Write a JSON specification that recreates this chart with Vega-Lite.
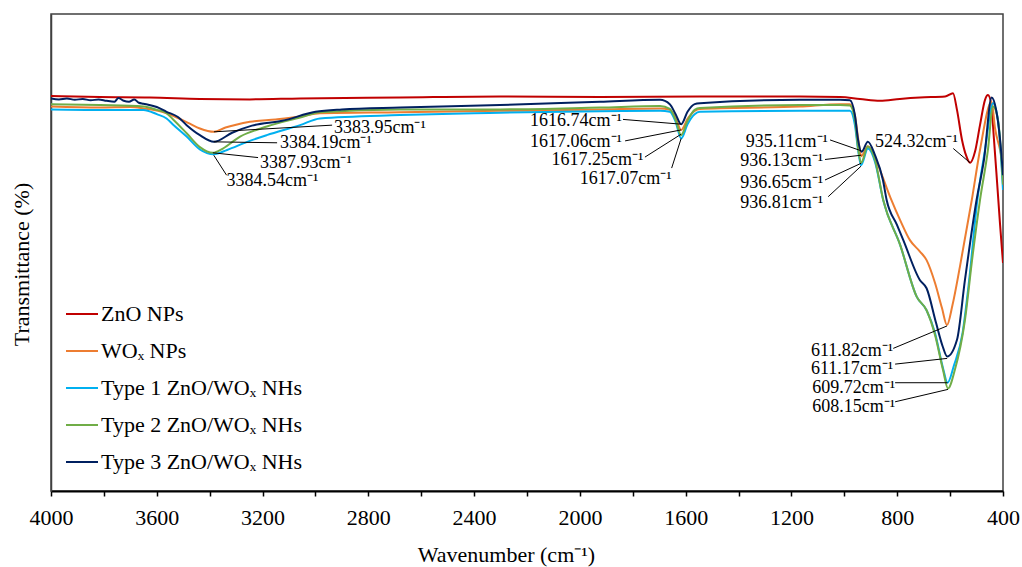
{
  "$schema": "https://vega.github.io/schema/vega-lite/v6.json",
  "width": 952,
  "height": 477,
  "autosize": {"type": "none"},
  "padding": {"left": 51, "top": 14, "right": 19, "bottom": 76},
  "background": "white",
  "config": {
    "font": "Liberation Serif",
    "view": {"stroke": "#404040", "strokeWidth": 1.5},
    "text": {"font": "Liberation Serif"}
  },
  "datasets": {
    "spectra": [
      {"s": "ZnO NPs", "wn": 4000, "t": 82.8},
      {"s": "ZnO NPs", "wn": 3815, "t": 82.6},
      {"s": "ZnO NPs", "wn": 3626, "t": 82.5},
      {"s": "ZnO NPs", "wn": 3437, "t": 82.2},
      {"s": "ZnO NPs", "wn": 3248, "t": 82.1},
      {"s": "ZnO NPs", "wn": 3058, "t": 82.3},
      {"s": "ZnO NPs", "wn": 2680, "t": 82.5},
      {"s": "ZnO NPs", "wn": 2302, "t": 82.7},
      {"s": "ZnO NPs", "wn": 1924, "t": 82.6},
      {"s": "ZnO NPs", "wn": 1546, "t": 82.7},
      {"s": "ZnO NPs", "wn": 1168, "t": 82.7},
      {"s": "ZnO NPs", "wn": 1016, "t": 82.6},
      {"s": "ZnO NPs", "wn": 941, "t": 82.2},
      {"s": "ZnO NPs", "wn": 865, "t": 81.8},
      {"s": "ZnO NPs", "wn": 790, "t": 82.2},
      {"s": "ZnO NPs", "wn": 714, "t": 82.5},
      {"s": "ZnO NPs", "wn": 619, "t": 82.7},
      {"s": "ZnO NPs", "wn": 589, "t": 83.4},
      {"s": "ZnO NPs", "wn": 574, "t": 79.9},
      {"s": "ZnO NPs", "wn": 555, "t": 73.6},
      {"s": "ZnO NPs", "wn": 540, "t": 70.4},
      {"s": "ZnO NPs", "wn": 524.32, "t": 68.8},
      {"s": "ZnO NPs", "wn": 506, "t": 71.1},
      {"s": "ZnO NPs", "wn": 487, "t": 76.7},
      {"s": "ZnO NPs", "wn": 468, "t": 82.0},
      {"s": "ZnO NPs", "wn": 457, "t": 83.0},
      {"s": "ZnO NPs", "wn": 445, "t": 81.3},
      {"s": "ZnO NPs", "wn": 434, "t": 73.6},
      {"s": "ZnO NPs", "wn": 423, "t": 65.2},
      {"s": "ZnO NPs", "wn": 411, "t": 55.8},
      {"s": "ZnO NPs", "wn": 400, "t": 47.8},

      {"s": "WOₓ NPs", "wn": 4000, "t": 80.6},
      {"s": "WOₓ NPs", "wn": 3815, "t": 80.4},
      {"s": "WOₓ NPs", "wn": 3700, "t": 80.5},
      {"s": "WOₓ NPs", "wn": 3650, "t": 80.2},
      {"s": "WOₓ NPs", "wn": 3580, "t": 79.5},
      {"s": "WOₓ NPs", "wn": 3520, "t": 78.2},
      {"s": "WOₓ NPs", "wn": 3475, "t": 77.0},
      {"s": "WOₓ NPs", "wn": 3437, "t": 76.0},
      {"s": "WOₓ NPs", "wn": 3383.95, "t": 75.3},
      {"s": "WOₓ NPs", "wn": 3340, "t": 76.2},
      {"s": "WOₓ NPs", "wn": 3300, "t": 76.8},
      {"s": "WOₓ NPs", "wn": 3248, "t": 77.4},
      {"s": "WOₓ NPs", "wn": 3150, "t": 77.9},
      {"s": "WOₓ NPs", "wn": 3058, "t": 78.5},
      {"s": "WOₓ NPs", "wn": 2983, "t": 79.2},
      {"s": "WOₓ NPs", "wn": 2680, "t": 79.4},
      {"s": "WOₓ NPs", "wn": 2302, "t": 79.7},
      {"s": "WOₓ NPs", "wn": 1924, "t": 80.0},
      {"s": "WOₓ NPs", "wn": 1697, "t": 80.2},
      {"s": "WOₓ NPs", "wn": 1660, "t": 79.9},
      {"s": "WOₓ NPs", "wn": 1638, "t": 78.2},
      {"s": "WOₓ NPs", "wn": 1617.06, "t": 75.7},
      {"s": "WOₓ NPs", "wn": 1593, "t": 78.0},
      {"s": "WOₓ NPs", "wn": 1566, "t": 79.7},
      {"s": "WOₓ NPs", "wn": 1546, "t": 80.1},
      {"s": "WOₓ NPs", "wn": 1168, "t": 80.6},
      {"s": "WOₓ NPs", "wn": 1016, "t": 81.1},
      {"s": "WOₓ NPs", "wn": 979, "t": 81.1},
      {"s": "WOₓ NPs", "wn": 960, "t": 78.8},
      {"s": "WOₓ NPs", "wn": 948, "t": 74.0},
      {"s": "WOₓ NPs", "wn": 936.13, "t": 70.2},
      {"s": "WOₓ NPs", "wn": 911, "t": 72.3},
      {"s": "WOₓ NPs", "wn": 873, "t": 68.3},
      {"s": "WOₓ NPs", "wn": 825, "t": 61.4},
      {"s": "WOₓ NPs", "wn": 789, "t": 56.8},
      {"s": "WOₓ NPs", "wn": 752, "t": 52.6},
      {"s": "WOₓ NPs", "wn": 714, "t": 50.2},
      {"s": "WOₓ NPs", "wn": 689, "t": 48.4},
      {"s": "WOₓ NPs", "wn": 657, "t": 43.6},
      {"s": "WOₓ NPs", "wn": 631, "t": 38.4},
      {"s": "WOₓ NPs", "wn": 611.82, "t": 34.8},
      {"s": "WOₓ NPs", "wn": 591, "t": 39.0},
      {"s": "WOₓ NPs", "wn": 563, "t": 47.0},
      {"s": "WOₓ NPs", "wn": 518, "t": 61.0},
      {"s": "WOₓ NPs", "wn": 487, "t": 71.5},
      {"s": "WOₓ NPs", "wn": 443, "t": 81.6},
      {"s": "WOₓ NPs", "wn": 430, "t": 76.0},
      {"s": "WOₓ NPs", "wn": 411, "t": 71.5},
      {"s": "WOₓ NPs", "wn": 400, "t": 68.3},

      {"s": "Type 1 ZnO/WOₓ NHs", "wn": 4000, "t": 80.0},
      {"s": "Type 1 ZnO/WOₓ NHs", "wn": 3815, "t": 79.9},
      {"s": "Type 1 ZnO/WOₓ NHs", "wn": 3650, "t": 79.9},
      {"s": "Type 1 ZnO/WOₓ NHs", "wn": 3600, "t": 79.0},
      {"s": "Type 1 ZnO/WOₓ NHs", "wn": 3563, "t": 78.1},
      {"s": "Type 1 ZnO/WOₓ NHs", "wn": 3540, "t": 76.9},
      {"s": "Type 1 ZnO/WOₓ NHs", "wn": 3487, "t": 74.3},
      {"s": "Type 1 ZnO/WOₓ NHs", "wn": 3437, "t": 71.6},
      {"s": "Type 1 ZnO/WOₓ NHs", "wn": 3384.54, "t": 70.6},
      {"s": "Type 1 ZnO/WOₓ NHs", "wn": 3334, "t": 71.5},
      {"s": "Type 1 ZnO/WOₓ NHs", "wn": 3258, "t": 73.2},
      {"s": "Type 1 ZnO/WOₓ NHs", "wn": 3184, "t": 74.6},
      {"s": "Type 1 ZnO/WOₓ NHs", "wn": 3058, "t": 76.7},
      {"s": "Type 1 ZnO/WOₓ NHs", "wn": 2983, "t": 78.1},
      {"s": "Type 1 ZnO/WOₓ NHs", "wn": 2680, "t": 78.8},
      {"s": "Type 1 ZnO/WOₓ NHs", "wn": 2400, "t": 79.2},
      {"s": "Type 1 ZnO/WOₓ NHs", "wn": 2302, "t": 79.3},
      {"s": "Type 1 ZnO/WOₓ NHs", "wn": 1924, "t": 79.6},
      {"s": "Type 1 ZnO/WOₓ NHs", "wn": 1697, "t": 79.7},
      {"s": "Type 1 ZnO/WOₓ NHs", "wn": 1660, "t": 79.5},
      {"s": "Type 1 ZnO/WOₓ NHs", "wn": 1638, "t": 77.4},
      {"s": "Type 1 ZnO/WOₓ NHs", "wn": 1617.07, "t": 73.9},
      {"s": "Type 1 ZnO/WOₓ NHs", "wn": 1593, "t": 76.9},
      {"s": "Type 1 ZnO/WOₓ NHs", "wn": 1566, "t": 79.0},
      {"s": "Type 1 ZnO/WOₓ NHs", "wn": 1546, "t": 79.5},
      {"s": "Type 1 ZnO/WOₓ NHs", "wn": 1168, "t": 79.7},
      {"s": "Type 1 ZnO/WOₓ NHs", "wn": 1016, "t": 79.7},
      {"s": "Type 1 ZnO/WOₓ NHs", "wn": 979, "t": 79.7},
      {"s": "Type 1 ZnO/WOₓ NHs", "wn": 960, "t": 76.7},
      {"s": "Type 1 ZnO/WOₓ NHs", "wn": 948, "t": 71.5},
      {"s": "Type 1 ZnO/WOₓ NHs", "wn": 936.65, "t": 68.3},
      {"s": "Type 1 ZnO/WOₓ NHs", "wn": 911, "t": 71.8},
      {"s": "Type 1 ZnO/WOₓ NHs", "wn": 884, "t": 69.0},
      {"s": "Type 1 ZnO/WOₓ NHs", "wn": 853, "t": 61.0},
      {"s": "Type 1 ZnO/WOₓ NHs", "wn": 789, "t": 51.6},
      {"s": "Type 1 ZnO/WOₓ NHs", "wn": 726, "t": 40.7},
      {"s": "Type 1 ZnO/WOₓ NHs", "wn": 689, "t": 37.9},
      {"s": "Type 1 ZnO/WOₓ NHs", "wn": 657, "t": 33.1},
      {"s": "Type 1 ZnO/WOₓ NHs", "wn": 627, "t": 25.8},
      {"s": "Type 1 ZnO/WOₓ NHs", "wn": 609.72, "t": 22.7},
      {"s": "Type 1 ZnO/WOₓ NHs", "wn": 585, "t": 26.4},
      {"s": "Type 1 ZnO/WOₓ NHs", "wn": 553, "t": 33.1},
      {"s": "Type 1 ZnO/WOₓ NHs", "wn": 528, "t": 44.2},
      {"s": "Type 1 ZnO/WOₓ NHs", "wn": 497, "t": 61.0},
      {"s": "Type 1 ZnO/WOₓ NHs", "wn": 468, "t": 71.5},
      {"s": "Type 1 ZnO/WOₓ NHs", "wn": 438, "t": 81.3},
      {"s": "Type 1 ZnO/WOₓ NHs", "wn": 419, "t": 77.8},
      {"s": "Type 1 ZnO/WOₓ NHs", "wn": 400, "t": 63.1},

      {"s": "Type 2 ZnO/WOₓ NHs", "wn": 4000, "t": 81.1},
      {"s": "Type 2 ZnO/WOₓ NHs", "wn": 3815, "t": 80.9},
      {"s": "Type 2 ZnO/WOₓ NHs", "wn": 3650, "t": 80.6},
      {"s": "Type 2 ZnO/WOₓ NHs", "wn": 3600, "t": 79.9},
      {"s": "Type 2 ZnO/WOₓ NHs", "wn": 3563, "t": 79.2},
      {"s": "Type 2 ZnO/WOₓ NHs", "wn": 3540, "t": 78.0},
      {"s": "Type 2 ZnO/WOₓ NHs", "wn": 3487, "t": 75.0},
      {"s": "Type 2 ZnO/WOₓ NHs", "wn": 3437, "t": 72.1},
      {"s": "Type 2 ZnO/WOₓ NHs", "wn": 3387.93, "t": 70.9},
      {"s": "Type 2 ZnO/WOₓ NHs", "wn": 3350, "t": 71.8},
      {"s": "Type 2 ZnO/WOₓ NHs", "wn": 3285, "t": 74.3},
      {"s": "Type 2 ZnO/WOₓ NHs", "wn": 3184, "t": 76.4},
      {"s": "Type 2 ZnO/WOₓ NHs", "wn": 3058, "t": 78.3},
      {"s": "Type 2 ZnO/WOₓ NHs", "wn": 2983, "t": 79.4},
      {"s": "Type 2 ZnO/WOₓ NHs", "wn": 2680, "t": 80.0},
      {"s": "Type 2 ZnO/WOₓ NHs", "wn": 2302, "t": 80.0},
      {"s": "Type 2 ZnO/WOₓ NHs", "wn": 1924, "t": 80.4},
      {"s": "Type 2 ZnO/WOₓ NHs", "wn": 1697, "t": 80.7},
      {"s": "Type 2 ZnO/WOₓ NHs", "wn": 1660, "t": 80.1},
      {"s": "Type 2 ZnO/WOₓ NHs", "wn": 1638, "t": 77.8},
      {"s": "Type 2 ZnO/WOₓ NHs", "wn": 1617.25, "t": 74.6},
      {"s": "Type 2 ZnO/WOₓ NHs", "wn": 1593, "t": 77.6},
      {"s": "Type 2 ZnO/WOₓ NHs", "wn": 1566, "t": 79.9},
      {"s": "Type 2 ZnO/WOₓ NHs", "wn": 1546, "t": 80.3},
      {"s": "Type 2 ZnO/WOₓ NHs", "wn": 1168, "t": 80.9},
      {"s": "Type 2 ZnO/WOₓ NHs", "wn": 1016, "t": 80.9},
      {"s": "Type 2 ZnO/WOₓ NHs", "wn": 979, "t": 80.8},
      {"s": "Type 2 ZnO/WOₓ NHs", "wn": 960, "t": 77.8},
      {"s": "Type 2 ZnO/WOₓ NHs", "wn": 948, "t": 71.9},
      {"s": "Type 2 ZnO/WOₓ NHs", "wn": 936.81, "t": 68.8},
      {"s": "Type 2 ZnO/WOₓ NHs", "wn": 911, "t": 72.2},
      {"s": "Type 2 ZnO/WOₓ NHs", "wn": 884, "t": 69.4},
      {"s": "Type 2 ZnO/WOₓ NHs", "wn": 853, "t": 61.0},
      {"s": "Type 2 ZnO/WOₓ NHs", "wn": 789, "t": 51.6},
      {"s": "Type 2 ZnO/WOₓ NHs", "wn": 726, "t": 40.7},
      {"s": "Type 2 ZnO/WOₓ NHs", "wn": 689, "t": 37.9},
      {"s": "Type 2 ZnO/WOₓ NHs", "wn": 657, "t": 32.7},
      {"s": "Type 2 ZnO/WOₓ NHs", "wn": 627, "t": 25.4},
      {"s": "Type 2 ZnO/WOₓ NHs", "wn": 608.15, "t": 21.5},
      {"s": "Type 2 ZnO/WOₓ NHs", "wn": 582, "t": 25.4},
      {"s": "Type 2 ZnO/WOₓ NHs", "wn": 544, "t": 35.8},
      {"s": "Type 2 ZnO/WOₓ NHs", "wn": 517, "t": 48.4},
      {"s": "Type 2 ZnO/WOₓ NHs", "wn": 487, "t": 61.0},
      {"s": "Type 2 ZnO/WOₓ NHs", "wn": 457, "t": 71.5},
      {"s": "Type 2 ZnO/WOₓ NHs", "wn": 438, "t": 80.6},
      {"s": "Type 2 ZnO/WOₓ NHs", "wn": 419, "t": 77.8},
      {"s": "Type 2 ZnO/WOₓ NHs", "wn": 400, "t": 64.2},

      {"s": "Type 3 ZnO/WOₓ NHs", "wn": 4000, "t": 82.3},
      {"s": "Type 3 ZnO/WOₓ NHs", "wn": 3970, "t": 82.1},
      {"s": "Type 3 ZnO/WOₓ NHs", "wn": 3940, "t": 82.3},
      {"s": "Type 3 ZnO/WOₓ NHs", "wn": 3910, "t": 82.0},
      {"s": "Type 3 ZnO/WOₓ NHs", "wn": 3880, "t": 82.2},
      {"s": "Type 3 ZnO/WOₓ NHs", "wn": 3850, "t": 81.9},
      {"s": "Type 3 ZnO/WOₓ NHs", "wn": 3820, "t": 82.1},
      {"s": "Type 3 ZnO/WOₓ NHs", "wn": 3790, "t": 81.8},
      {"s": "Type 3 ZnO/WOₓ NHs", "wn": 3760, "t": 81.6},
      {"s": "Type 3 ZnO/WOₓ NHs", "wn": 3745, "t": 82.4},
      {"s": "Type 3 ZnO/WOₓ NHs", "wn": 3725, "t": 81.8},
      {"s": "Type 3 ZnO/WOₓ NHs", "wn": 3705, "t": 81.6},
      {"s": "Type 3 ZnO/WOₓ NHs", "wn": 3685, "t": 82.1},
      {"s": "Type 3 ZnO/WOₓ NHs", "wn": 3668, "t": 81.4},
      {"s": "Type 3 ZnO/WOₓ NHs", "wn": 3650, "t": 81.2},
      {"s": "Type 3 ZnO/WOₓ NHs", "wn": 3600, "t": 80.5},
      {"s": "Type 3 ZnO/WOₓ NHs", "wn": 3563, "t": 79.5},
      {"s": "Type 3 ZnO/WOₓ NHs", "wn": 3520, "t": 78.4},
      {"s": "Type 3 ZnO/WOₓ NHs", "wn": 3487, "t": 76.7},
      {"s": "Type 3 ZnO/WOₓ NHs", "wn": 3437, "t": 74.6},
      {"s": "Type 3 ZnO/WOₓ NHs", "wn": 3384.19, "t": 73.2},
      {"s": "Type 3 ZnO/WOₓ NHs", "wn": 3315, "t": 75.1},
      {"s": "Type 3 ZnO/WOₓ NHs", "wn": 3240, "t": 76.6},
      {"s": "Type 3 ZnO/WOₓ NHs", "wn": 3126, "t": 77.6},
      {"s": "Type 3 ZnO/WOₓ NHs", "wn": 3000, "t": 79.5},
      {"s": "Type 3 ZnO/WOₓ NHs", "wn": 2900, "t": 80.0},
      {"s": "Type 3 ZnO/WOₓ NHs", "wn": 2680, "t": 80.4},
      {"s": "Type 3 ZnO/WOₓ NHs", "wn": 2302, "t": 80.9},
      {"s": "Type 3 ZnO/WOₓ NHs", "wn": 1924, "t": 81.6},
      {"s": "Type 3 ZnO/WOₓ NHs", "wn": 1697, "t": 82.0},
      {"s": "Type 3 ZnO/WOₓ NHs", "wn": 1660, "t": 81.1},
      {"s": "Type 3 ZnO/WOₓ NHs", "wn": 1638, "t": 79.0},
      {"s": "Type 3 ZnO/WOₓ NHs", "wn": 1616.74, "t": 76.9},
      {"s": "Type 3 ZnO/WOₓ NHs", "wn": 1593, "t": 79.5},
      {"s": "Type 3 ZnO/WOₓ NHs", "wn": 1566, "t": 81.1},
      {"s": "Type 3 ZnO/WOₓ NHs", "wn": 1546, "t": 81.3},
      {"s": "Type 3 ZnO/WOₓ NHs", "wn": 1168, "t": 82.0},
      {"s": "Type 3 ZnO/WOₓ NHs", "wn": 1016, "t": 82.0},
      {"s": "Type 3 ZnO/WOₓ NHs", "wn": 979, "t": 81.9},
      {"s": "Type 3 ZnO/WOₓ NHs", "wn": 960, "t": 78.8},
      {"s": "Type 3 ZnO/WOₓ NHs", "wn": 948, "t": 73.6},
      {"s": "Type 3 ZnO/WOₓ NHs", "wn": 935.11, "t": 71.1},
      {"s": "Type 3 ZnO/WOₓ NHs", "wn": 911, "t": 73.2},
      {"s": "Type 3 ZnO/WOₓ NHs", "wn": 884, "t": 70.4},
      {"s": "Type 3 ZnO/WOₓ NHs", "wn": 854, "t": 65.2},
      {"s": "Type 3 ZnO/WOₓ NHs", "wn": 840, "t": 61.0},
      {"s": "Type 3 ZnO/WOₓ NHs", "wn": 801, "t": 55.8},
      {"s": "Type 3 ZnO/WOₓ NHs", "wn": 777, "t": 52.6},
      {"s": "Type 3 ZnO/WOₓ NHs", "wn": 714, "t": 44.2},
      {"s": "Type 3 ZnO/WOₓ NHs", "wn": 689, "t": 42.5},
      {"s": "Type 3 ZnO/WOₓ NHs", "wn": 653, "t": 35.2},
      {"s": "Type 3 ZnO/WOₓ NHs", "wn": 628, "t": 30.3},
      {"s": "Type 3 ZnO/WOₓ NHs", "wn": 611.17, "t": 28.2},
      {"s": "Type 3 ZnO/WOₓ NHs", "wn": 574, "t": 31.7},
      {"s": "Type 3 ZnO/WOₓ NHs", "wn": 544, "t": 44.2},
      {"s": "Type 3 ZnO/WOₓ NHs", "wn": 500, "t": 61.0},
      {"s": "Type 3 ZnO/WOₓ NHs", "wn": 472, "t": 69.4},
      {"s": "Type 3 ZnO/WOₓ NHs", "wn": 443, "t": 82.5},
      {"s": "Type 3 ZnO/WOₓ NHs", "wn": 426, "t": 79.9},
      {"s": "Type 3 ZnO/WOₓ NHs", "wn": 411, "t": 73.6},
      {"s": "Type 3 ZnO/WOₓ NHs", "wn": 400, "t": 66.2}
    ],
    "labels": [
      {"label": "3383.95cm⁻¹", "x": 2930, "y": 76.2, "side": "left"},
      {"label": "3384.19cm⁻¹", "x": 3134, "y": 72.9, "side": "left"},
      {"label": "3387.93cm⁻¹", "x": 3210, "y": 68.8, "side": "left"},
      {"label": "3384.54cm⁻¹", "x": 3336, "y": 65.0, "side": "left"},
      {"label": "524.32cm⁻¹", "x": 884, "y": 73.2, "side": "left"},
      {"label": "1616.74cm⁻¹", "x": 1841, "y": 77.5, "side": "right"},
      {"label": "1617.06cm⁻¹", "x": 1841, "y": 73.2, "side": "right"},
      {"label": "1617.25cm⁻¹", "x": 1760, "y": 69.3, "side": "right"},
      {"label": "1617.07cm⁻¹", "x": 1653, "y": 65.4, "side": "right"},
      {"label": "935.11cm⁻¹", "x": 1062, "y": 73.2, "side": "right"},
      {"label": "936.13cm⁻¹", "x": 1080, "y": 69.2, "side": "right"},
      {"label": "936.65cm⁻¹", "x": 1080, "y": 64.6, "side": "right"},
      {"label": "936.81cm⁻¹", "x": 1080, "y": 60.3, "side": "right"},
      {"label": "611.82cm⁻¹", "x": 815, "y": 29.4, "side": "right"},
      {"label": "611.17cm⁻¹", "x": 815, "y": 25.5, "side": "right"},
      {"label": "609.72cm⁻¹", "x": 808, "y": 21.6, "side": "right"},
      {"label": "608.15cm⁻¹", "x": 808, "y": 17.7, "side": "right"}
    ],
    "leaders": [
      {"x": 3383.95, "y": 75.3, "x2": 2937, "y2": 76.7},
      {"x": 3384.19, "y": 73.2, "x2": 3145, "y2": 73.0},
      {"x": 3387.93, "y": 70.9, "x2": 3217, "y2": 69.9},
      {"x": 3384.54, "y": 70.4, "x2": 3336, "y2": 66.2},
      {"x": 524.32, "y": 68.8, "x2": 588, "y2": 71.8},
      {"x": 1616.74, "y": 76.9, "x2": 1837, "y2": 77.9},
      {"x": 1617.06, "y": 75.7, "x2": 1829, "y2": 73.4},
      {"x": 1617.25, "y": 74.8, "x2": 1754, "y2": 70.0},
      {"x": 1617.07, "y": 73.9, "x2": 1653, "y2": 67.7},
      {"x": 935.11, "y": 71.3, "x2": 1054, "y2": 73.6},
      {"x": 936.13, "y": 70.4, "x2": 1073, "y2": 69.5},
      {"x": 936.65, "y": 68.7, "x2": 1073, "y2": 65.2},
      {"x": 936.81, "y": 68.1, "x2": 1061, "y2": 61.7},
      {"x": 611.82, "y": 34.6, "x2": 815, "y2": 29.9},
      {"x": 611.17, "y": 27.8, "x2": 808, "y2": 26.6},
      {"x": 609.72, "y": 22.7, "x2": 808, "y2": 22.7},
      {"x": 608.15, "y": 21.3, "x2": 808, "y2": 18.7}
    ]
  },
  "layer": [
    {
      "data": {"name": "spectra"},
      "mark": {"type": "line", "strokeWidth": 2, "interpolate": "monotone", "clip": true},
      "encoding": {
        "x": {
          "field": "wn", "type": "quantitative",
          "scale": {"domain": [400, 4000], "reverse": true, "nice": false, "zero": false},
          "axis": {
            "title": "Wavenumber (cm⁻¹)",
            "values": [4000, 3800, 3600, 3400, 3200, 3000, 2800, 2600, 2400, 2200, 2000, 1800, 1600, 1400, 1200, 1000, 800, 600, 400],
            "labelExpr": "datum.value % 400 == 0 ? datum.label : ''",
            "format": "d",
            "grid": false,
            "domainColor": "#000000", "domainWidth": 2,
            "tickColor": "#000000", "tickWidth": 1.5, "tickSize": 5,
            "labelFont": "Liberation Serif", "labelFontSize": 22, "labelColor": "#000000",
            "labelBaseline": "alphabetic", "labelPadding": 28, "labelOverlap": false, "labelFlush": false,
            "titleFont": "Liberation Serif", "titleFontSize": 22, "titleFontWeight": "normal", "titleColor": "#000000",
            "titleX": 455, "titleY": 70, "titleBaseline": "alphabetic", "titleAlign": "center", "titleAnchor": null
          }
        },
        "y": {
          "field": "t", "type": "quantitative",
          "scale": {"domain": [0, 100], "nice": false},
          "axis": {
            "title": "Transmittance (%)",
            "ticks": false, "labels": false, "grid": false,
            "domainColor": "#404040", "domainWidth": 1.5,
            "titleFont": "Liberation Serif", "titleFontSize": 22, "titleFontWeight": "normal", "titleColor": "#000000",
            "titleAngle": -90, "titleX": -23, "titleY": 250, "titleBaseline": "alphabetic", "titleAlign": "center"
          }
        },
        "color": {
          "field": "s", "type": "nominal",
          "scale": {
            "domain": ["ZnO NPs", "WOₓ NPs", "Type 1 ZnO/WOₓ NHs", "Type 2 ZnO/WOₓ NHs", "Type 3 ZnO/WOₓ NHs"],
            "range": ["#C00000", "#ED7D31", "#00B0F0", "#70AD47", "#002060"]
          },
          "legend": {
            "title": null, "orient": "none", "legendX": 14, "legendY": 283,
            "symbolType": "stroke", "symbolSize": 1024, "symbolStrokeWidth": 2,
            "labelFont": "Liberation Serif", "labelFontSize": 22, "labelColor": "#000000",
            "labelOffset": 2, "rowPadding": 9, "padding": 0, "labelLimit": 400
          }
        },
        "order": {"field": "wn", "type": "quantitative", "sort": "descending"}
      }
    },
    {
      "data": {"name": "leaders"},
      "mark": {"type": "rule", "color": "#000000", "strokeWidth": 1},
      "encoding": {
        "x": {"field": "x", "type": "quantitative"},
        "x2": {"field": "x2"},
        "y": {"field": "y", "type": "quantitative"},
        "y2": {"field": "y2"}
      }
    },
    {
      "data": {"name": "labels"},
      "transform": [{"filter": "datum.side == 'left'"}],
      "mark": {"type": "text", "align": "left", "baseline": "middle", "fontSize": 18, "font": "Liberation Serif", "color": "#000000"},
      "encoding": {
        "x": {"field": "x", "type": "quantitative"},
        "y": {"field": "y", "type": "quantitative"},
        "text": {"field": "label"}
      }
    },
    {
      "data": {"name": "labels"},
      "transform": [{"filter": "datum.side == 'right'"}],
      "mark": {"type": "text", "align": "right", "baseline": "middle", "fontSize": 18, "font": "Liberation Serif", "color": "#000000"},
      "encoding": {
        "x": {"field": "x", "type": "quantitative"},
        "y": {"field": "y", "type": "quantitative"},
        "text": {"field": "label"}
      }
    }
  ]
}
